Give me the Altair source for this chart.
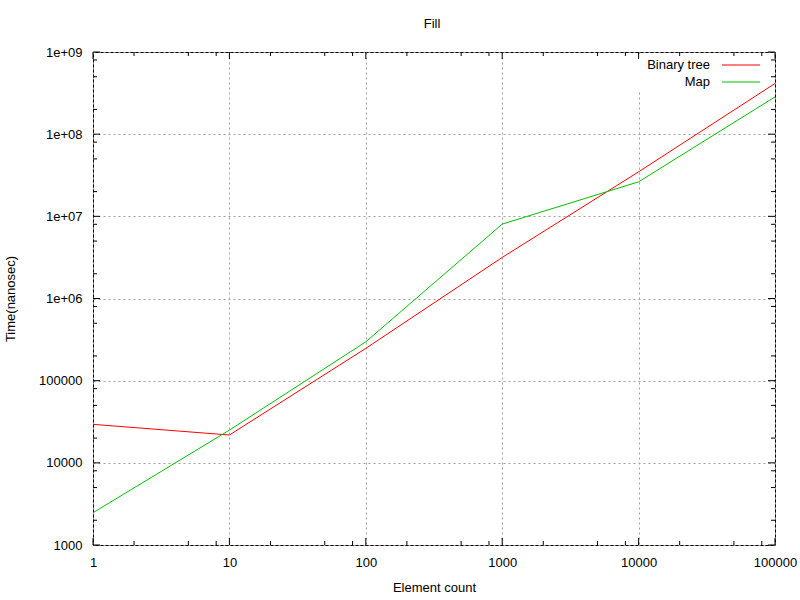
import altair as alt
import pandas as pd

# ---- data ----
element_count = [1, 10, 100, 1000, 10000, 100000]
binary_tree = [29400, 21800, 247000, 3160000, 34800000, 414000000]
map_times = [2470, 25000, 297000, 8040000, 26300000, 284000000]
series_names = ["Binary tree", "Map"]
series_colors = ["#ff0000", "#00c000"]

x_major = [1, 10, 100, 1000, 10000, 100000]
y_major = [1000, 10000, 100000, 1000000, 10000000, 100000000, 1000000000]
minor_mult = [2, 5, 8]

W, H = 682, 493
FONT = "Liberation Sans"
FS = 13

rows = []
for name, vals in zip(series_names, [binary_tree, map_times]):
    for x, y in zip(element_count, vals):
        rows.append({"series": name, "x": x, "y": y})
df = pd.DataFrame(rows)

xs = alt.Scale(type="log", domain=[1, 100000], nice=False)
ys = alt.Scale(type="log", domain=[1000, 1000000000], nice=False)

ylabel_expr = ("datum.value >= 1000000 ? '1e+0' + format(log(datum.value)/LN10, '.0f') "
               ": format(datum.value, 'd')")

x_axis = alt.Axis(values=x_major, ticks=False, domain=False, grid=True,
                  gridColor="#a0a0a0", gridDash=[2, 3], gridWidth=1,
                  labelFont=FONT, labelFontSize=FS, labelColor="black",
                  labelPadding=11, labelFlush=False, format="d",
                  title="Element count", titleFont=FONT, titleFontSize=FS,
                  titleFontWeight="normal", titleColor="black", titlePadding=12)
y_axis = alt.Axis(values=y_major, ticks=False, domain=False, grid=True,
                  gridColor="#a0a0a0", gridDash=[2, 3], gridWidth=1,
                  labelFont=FONT, labelFontSize=FS, labelColor="black",
                  labelPadding=11, labelFlush=False, labelExpr=ylabel_expr,
                  title="Time(nanosec)", titleFont=FONT, titleFontSize=FS,
                  titleFontWeight="normal", titleColor="black", titlePadding=21)

# legend background (hides grid behind the key, like gnuplot)
leg_bg = alt.Chart(pd.DataFrame({"a": [0]})).mark_rect(color="white").encode(
    x=alt.value(540), x2=alt.value(674), y=alt.value(2), y2=alt.value(39))

lines = alt.Chart(df).mark_line(strokeWidth=1, clip=True).encode(
    x=alt.X("x:Q", scale=xs, axis=x_axis),
    y=alt.Y("y:Q", scale=ys, axis=y_axis),
    color=alt.Color("series:N", scale=alt.Scale(domain=series_names, range=series_colors),
                    legend=None),
    detail="series:N",
)

# tick tables
def tick_df(major, last):
    recs = []
    for m in major:
        recs.append({"v": m, "kind": "major"})
        if m != last:
            for k in minor_mult:
                recs.append({"v": m * k, "kind": "minor"})
    return pd.DataFrame(recs)

xt = tick_df(x_major, x_major[-1])
yt = tick_df(y_major, y_major[-1])

layers = [leg_bg, lines]
for kind, ln in [("major", 7), ("minor", 4)]:
    xd = xt[xt.kind == kind]
    yd = yt[yt.kind == kind]
    layers.append(alt.Chart(xd).mark_rule(color="black", strokeWidth=1).encode(
        x=alt.X("v:Q", scale=xs, axis=x_axis), y=alt.value(H), y2=alt.value(H - ln)))
    layers.append(alt.Chart(xd).mark_rule(color="black", strokeWidth=1).encode(
        x=alt.X("v:Q", scale=xs, axis=x_axis), y=alt.value(0), y2=alt.value(ln)))
    layers.append(alt.Chart(yd).mark_rule(color="black", strokeWidth=1).encode(
        y=alt.Y("v:Q", scale=ys, axis=y_axis), x=alt.value(0), x2=alt.value(ln)))
    layers.append(alt.Chart(yd).mark_rule(color="black", strokeWidth=1).encode(
        y=alt.Y("v:Q", scale=ys, axis=y_axis), x=alt.value(W - ln), x2=alt.value(W)))

# legend (manual, gnuplot style)
for i, (name, col) in enumerate(zip(series_names, series_colors)):
    ld = pd.DataFrame({"series": [name]})
    yy = 13 + 17 * i
    layers.append(alt.Chart(ld).mark_text(align="right", baseline="middle", font=FONT,
                                          fontSize=FS, color="black").encode(
        text="series:N", x=alt.value(617), y=alt.value(yy)))
    layers.append(alt.Chart(ld).mark_rule(color=col, strokeWidth=1).encode(
        x=alt.value(629), x2=alt.value(667), y=alt.value(yy)))

chart = alt.layer(*layers).properties(
    width=W, height=H,
    title=alt.TitleParams("Fill", font=FONT, fontSize=FS, fontWeight="normal",
                          color="black", anchor="middle", dx=-2, offset=15),
    autosize=alt.AutoSizeParams(type="none"),
    padding={"left": 93, "top": 52, "right": 25, "bottom": 55},
    background="white",
).configure_view(stroke="black", strokeWidth=1)

chart.save("out.html", embed_options={"renderer": "svg", "actions": False})
